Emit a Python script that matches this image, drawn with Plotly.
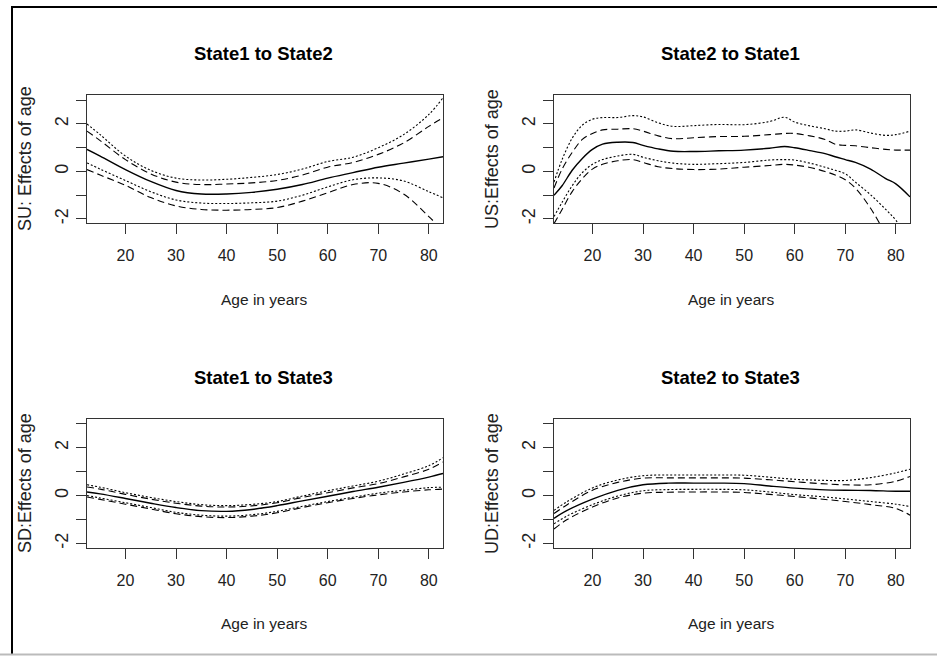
import plotly.graph_objects as go

# ---------------- data ----------------
x_ticks = [20, 30, 40, 50, 60, 70, 80]
y_ticks = [-2, -1, 0, 1, 2, 3]
y_tick_text = ["-2", "", "0", "", "2", ""]

panel_titles = ["State1 to State2", "State2 to State1", "State1 to State3", "State2 to State3"]
y_titles = ["SU: Effects of age", "US:Effects of age", "SD:Effects of age", "UD:Effects of age"]
x_title = "Age in years"

# State1 -> State2 (SU)
age_su = [12.4, 15, 20, 25, 30, 35, 40, 45, 50, 55, 60, 65, 70, 75, 80, 82.8]
su_est = [0.93, 0.65, 0.08, -0.42, -0.80, -0.95, -0.95, -0.88, -0.75, -0.55, -0.28, -0.05, 0.18, 0.35, 0.52, 0.62]
su_up_dot = [2.0, 1.55, 0.65, 0.05, -0.28, -0.36, -0.33, -0.25, -0.13, 0.1, 0.42, 0.6, 1.0, 1.55, 2.4, 3.1]
su_up_dash = [1.7, 1.3, 0.5, -0.1, -0.45, -0.55, -0.53, -0.48, -0.38, -0.15, 0.18, 0.38, 0.72, 1.2, 1.9, 2.26]
su_lo_dot = [0.36, 0.1, -0.38, -0.85, -1.2, -1.33, -1.35, -1.32, -1.25, -1.0, -0.65, -0.35, -0.27, -0.4, -0.85, -1.11]
su_lo_dash = [0.08, -0.15, -0.58, -1.1, -1.45, -1.6, -1.63, -1.6, -1.52, -1.25, -0.9, -0.55, -0.5, -0.95, -1.9, -2.5]

# State2 -> State1 (US)
age_us = [12.4, 14, 16, 18, 20, 22, 25, 28, 30, 33, 36, 40, 45, 50, 55, 58, 60, 63, 66, 68, 70, 72, 75, 78, 80, 82.8]
us_est = [-1.0, -0.6, 0.05, 0.55, 0.93, 1.15, 1.23, 1.22, 1.1, 0.95, 0.85, 0.84, 0.87, 0.9, 0.98, 1.05, 1.0, 0.88, 0.75, 0.62, 0.5, 0.38, 0.1, -0.3, -0.52, -1.07]
us_up_dot = [-0.45, 0.5, 1.4, 1.95, 2.2, 2.27, 2.27, 2.35, 2.3, 2.05, 1.9, 1.93, 1.98, 1.97, 2.1, 2.28, 2.08, 1.92, 1.8, 1.7, 1.7, 1.75, 1.62, 1.52, 1.55, 1.7]
us_up_dash = [-0.7, 0.1, 0.8, 1.35, 1.6, 1.75, 1.78, 1.8, 1.7, 1.5, 1.38, 1.42, 1.47, 1.48, 1.55, 1.6, 1.6, 1.5, 1.35, 1.15, 1.1, 1.08, 1.0, 0.93, 0.9, 0.9]
us_lo_dot = [-1.9, -1.3, -0.6, -0.05, 0.3, 0.5, 0.65, 0.72, 0.6, 0.45, 0.35, 0.3, 0.33, 0.38, 0.48, 0.5, 0.48, 0.35, 0.18, 0.05, -0.1, -0.45, -0.98, -1.6, -2.05, -2.9]
us_lo_dash = [-2.2, -1.6, -0.85, -0.3, 0.1, 0.3, 0.45, 0.5, 0.38, 0.2, 0.12, 0.08, 0.1, 0.18, 0.25, 0.3, 0.27, 0.17, 0.0, -0.15, -0.35, -0.7, -1.55, -2.65, -3.4, -4.4]

# State1 -> State3 (SD)
age_sd = [12.4, 15, 20, 25, 30, 35, 40, 45, 50, 55, 60, 65, 70, 75, 80, 82.8]
sd_est = [0.15, 0.07, -0.12, -0.32, -0.5, -0.63, -0.66, -0.58, -0.42, -0.22, -0.03, 0.17, 0.35, 0.55, 0.77, 0.92]
sd_up_dot = [0.45, 0.35, 0.12, -0.08, -0.25, -0.38, -0.42, -0.37, -0.25, -0.02, 0.2, 0.4, 0.6, 0.9, 1.25, 1.58]
sd_up_dash = [0.36, 0.27, 0.05, -0.15, -0.32, -0.44, -0.48, -0.43, -0.3, -0.08, 0.12, 0.32, 0.5, 0.78, 1.1, 1.4]
sd_lo_dot = [0.0, -0.1, -0.3, -0.5, -0.7, -0.82, -0.86, -0.8, -0.66, -0.45, -0.25, -0.07, 0.1, 0.22, 0.33, 0.35]
sd_lo_dash = [-0.06, -0.16, -0.36, -0.56, -0.76, -0.88, -0.92, -0.86, -0.72, -0.5, -0.3, -0.12, 0.03, 0.15, 0.24, 0.27]

# State2 -> State3 (UD)
age_ud = [12.4, 15, 20, 25, 30, 35, 40, 45, 50, 55, 60, 65, 70, 75, 80, 82.8]
ud_est = [-0.95, -0.62, -0.15, 0.22, 0.45, 0.52, 0.52, 0.52, 0.5, 0.4, 0.31, 0.25, 0.22, 0.21, 0.18, 0.18]
ud_up_dot = [-0.62, -0.25, 0.32, 0.65, 0.83, 0.86, 0.86, 0.86, 0.85, 0.77, 0.68, 0.64, 0.63, 0.75, 0.95, 1.1]
ud_up_dash = [-0.75, -0.38, 0.22, 0.55, 0.73, 0.74, 0.74, 0.74, 0.73, 0.66, 0.58, 0.5, 0.45, 0.45, 0.6, 0.8]
ud_lo_dot = [-1.18, -0.85, -0.38, -0.02, 0.2, 0.25, 0.26, 0.26, 0.24, 0.15, 0.04, -0.04, -0.14, -0.25, -0.36, -0.46]
ud_lo_dash = [-1.4, -1.0, -0.48, -0.1, 0.1, 0.14, 0.15, 0.15, 0.13, 0.05, -0.04, -0.14, -0.25, -0.38, -0.54, -0.82]

panels = [
    (age_su, su_est, su_up_dot, su_up_dash, su_lo_dot, su_lo_dash),
    (age_us, us_est, us_up_dot, us_up_dash, us_lo_dot, us_lo_dash),
    (age_sd, sd_est, sd_up_dot, sd_up_dash, sd_lo_dot, sd_lo_dash),
    (age_ud, ud_est, ud_up_dot, ud_up_dash, ud_lo_dot, ud_lo_dash),
]

# ---------------- layout geometry ----------------
W, H = 937, 656
x_dom = [[87 / W, 443 / W], [554 / W, 910 / W]]
y_dom = [[1 - 223 / H, 1 - 95 / H], [1 - 547.5 / H, 1 - 418.5 / H]]
x_range = [12.4, 82.8]
y_range = [-2.17, 3.22]

REG = "Liberation Sans, Arial, sans-serif"
AX = "#333333"
TXT = "#222222"

fig = go.Figure()

styles = [
    dict(dash="solid", width=1.4),
    dict(dash="2px,2px", width=1.1),
    dict(dash="7px,4px", width=1.1),
    dict(dash="2px,2px", width=1.1),
    dict(dash="7px,4px", width=1.1),
]

layout = dict(
    width=W, height=H, autosize=False,
    margin=dict(l=0, r=0, t=0, b=0),
    paper_bgcolor="white", plot_bgcolor="white",
    showlegend=False,
)
annotations = []

for i, data in enumerate(panels):
    r, c = divmod(i, 2)
    n = "" if i == 0 else str(i + 1)
    xa, ya = "x" + n, "y" + n
    age = data[0]
    for s, vals in zip(styles, data[1:]):
        fig.add_trace(go.Scatter(
            x=age, y=vals, mode="lines", xaxis=xa, yaxis=ya,
            line=dict(color="black", width=s["width"], dash=s["dash"], shape="spline", smoothing=1.0),
            hoverinfo="skip",
        ))
    layout["xaxis" + n] = dict(
        domain=x_dom[c], anchor=ya, range=x_range,
        tickvals=x_ticks, ticks="outside", ticklen=10, tickwidth=1, tickcolor=AX,
        showline=True, linecolor=AX, linewidth=1, mirror=True,
        showgrid=False, zeroline=False,
        tickfont=dict(family=REG, size=16, color=TXT),
        ticklabelstandoff=8,
    )
    layout["yaxis" + n] = dict(
        domain=y_dom[r], anchor=xa, range=y_range,
        tickvals=y_ticks, ticktext=y_tick_text, tickangle=-90,
        ticks="outside", ticklen=10, tickwidth=1, tickcolor=AX,
        showline=True, linecolor=AX, linewidth=1, mirror=True,
        showgrid=False, zeroline=False,
        tickfont=dict(family=REG, size=18, color=TXT),
        ticklabelstandoff=1,
    )
    cx = (x_dom[c][0] + x_dom[c][1]) / 2 - 1.5 / W
    top_px = 95 if r == 0 else 418.5
    bot_px = 223 if r == 0 else 547.5
    # panel title
    annotations.append(dict(
        text="<b>" + panel_titles[i] + "</b>", xref="paper", yref="paper",
        x=cx, y=1 - (top_px - 41) / H, xanchor="center", yanchor="middle",
        showarrow=False, font=dict(family=REG, size=18.5, color="black"),
    ))
    # x title
    annotations.append(dict(
        text=x_title, xref="paper", yref="paper",
        x=cx, y=1 - (bot_px + 76) / H, xanchor="center", yanchor="middle",
        showarrow=False, font=dict(family=REG, size=15.5, color=TXT),
    ))
    # y title
    annotations.append(dict(
        text=y_titles[i], xref="paper", yref="paper", textangle=-90,
        x=(x_dom[c][0] * W - 62) / W, y=(y_dom[r][0] + y_dom[r][1]) / 2,
        xanchor="center", yanchor="middle",
        showarrow=False, font=dict(family=REG, size=18, color=TXT),
    ))

layout["annotations"] = annotations
layout["shapes"] = [
    dict(type="line", xref="paper", yref="paper", x0=12 / W, x1=12 / W, y0=1 - 6 / H, y1=1 - 655 / H,
         line=dict(color="black", width=2)),
    dict(type="line", xref="paper", yref="paper", x0=11 / W, x1=1, y0=1 - 7 / H, y1=1 - 7 / H,
         line=dict(color="black", width=2)),
    dict(type="line", xref="paper", yref="paper", x0=0, x1=1, y0=1 - 654.5 / H, y1=1 - 654.5 / H,
         line=dict(color="#bbbbbb", width=2)),
]
fig.update_layout(**layout)
fig.write_html("out.html")
